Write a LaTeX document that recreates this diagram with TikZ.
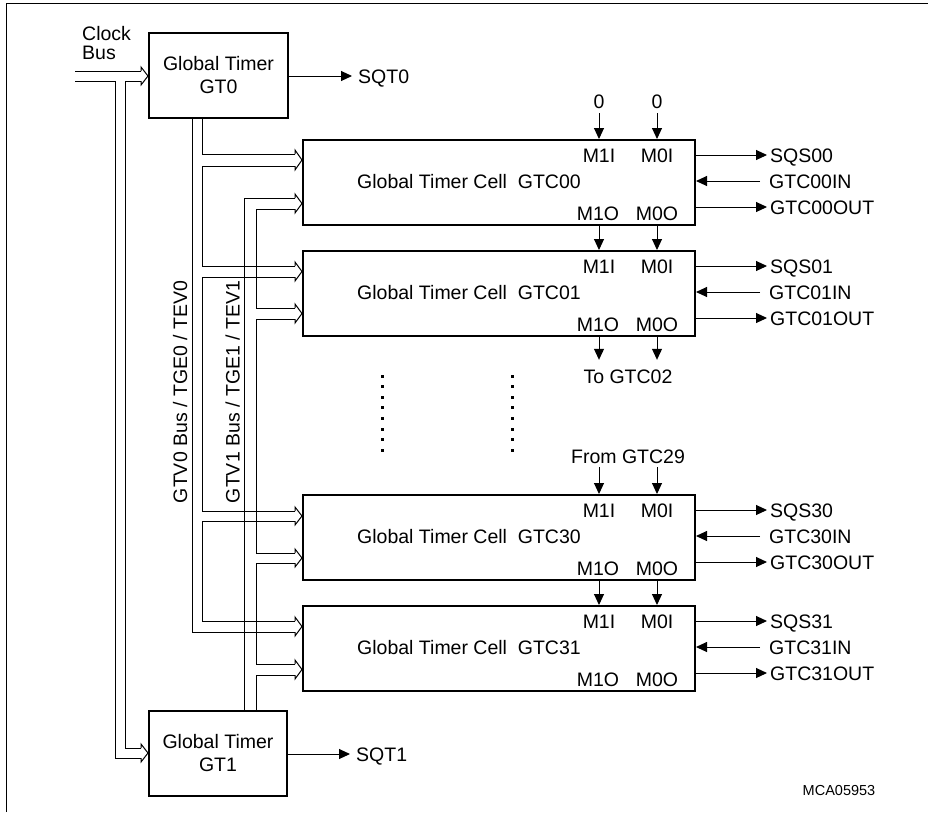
\documentclass[tikz,border=0pt]{standalone}
\usepackage{fontspec}
\setmainfont{Liberation Sans}
\usetikzlibrary{arrows.meta,calc}
\newcommand\labfont{\fontsize{19.5}{23}\selectfont}
\newcommand\chev[3]{\draw[bus] (#1-7,#2) -- (#1-7,#2-4) -- (#1,{(#2+#3)/2}) -- (#1-7,#3+4) -- (#1-7,#3);}
\begin{document}
\begin{tikzpicture}[x=1pt,y=-1pt,
  box/.style={draw, line width=2pt, inner sep=0pt, align=center, font=\labfont},
  lbl/.style={inner sep=0pt, text height=14pt, text depth=0pt, font=\labfont},
  sig/.style={line width=1pt, -{Triangle[length=11pt,width=10pt]}},
  bus/.style={line width=1pt, line join=miter},
]
\useasboundingbox (0,0) rectangle (928,812);
% frame
\draw[line width=1pt] (6,812) -- (6,3) -- (928,3);

% clock bus
\draw[bus] (75,71) -- (141,71);
\draw[bus] (75,81) -- (115,81) -- (115,758) -- (141,758);
\draw[bus] (141,81) -- (125,81) -- (125,748) -- (141,748);
\chev{148}{71}{81}
\chev{148}{748}{758}

% GTV0 bus
\draw[bus] (192,119) -- (192,632) -- (295,632);
\draw[bus] (202,119) -- (202,154) -- (295,154);
\draw[bus] (295,166) -- (202,166) -- (202,266) -- (295,266);
\draw[bus] (295,277) -- (202,277) -- (202,511) -- (295,511);
\draw[bus] (295,521) -- (202,521) -- (202,621) -- (295,621);
\chev{302}{154}{166}
\chev{302}{266}{277}
\chev{302}{511}{521}
\chev{302}{621}{632}

% GTV1 bus
\draw[bus] (244,710) -- (244,198) -- (295,198);
\draw[bus] (295,209) -- (256,209) -- (256,308) -- (295,308);
\draw[bus] (295,319) -- (256,319) -- (256,553) -- (295,553);
\draw[bus] (295,563) -- (256,563) -- (256,664) -- (295,664);
\draw[bus] (295,675) -- (256,675) -- (256,710);
\chev{302}{198}{209}
\chev{302}{308}{319}
\chev{302}{553}{563}
\chev{302}{664}{675}

\node[lbl, rotate=90] (gtv0) at (180,392) {GTV0 Bus / TGE0 / TEV0};
\node[lbl, rotate=90] (gtv1) at (232.5,392) {GTV1 Bus / TGE1 / TEV1};

% global timers
\node[box, minimum width=139pt, minimum height=85pt] (gt0) at (218.5,75.5) {Global Timer\\GT0};
\node[box, minimum width=138pt, minimum height=85pt] (gt1) at (218,753.5) {Global Timer\\GT1};
\node[lbl, anchor=west] (clk) at (82,33.5) {Clock};
\node[lbl, anchor=west] (clkb) at (82,52.5) {Bus};
\node[lbl, anchor=west, inner xsep=6pt] (sqt0) at (352,76) {SQT0};
\node[lbl, anchor=west, inner xsep=6pt] (sqt1) at (350,754) {SQT1};
\draw[sig] (gt0.east |- sqt0.west) -- (sqt0.west);
\draw[sig] (gt1.east |- sqt1.west) -- (sqt1.west);

% timer cells
\foreach \n/\t in {00/140,01/251,30/495,31/606}{
  \node[box, minimum width=392pt, minimum height=85pt] (c\n) at (499,\t+42.5) {};
  \node[lbl] (m1i\n) at (599,\t+15) {M1I};
  \node[lbl] (m0i\n) at (657,\t+15) {M0I};
  \node[lbl, anchor=west] (t\n) at (357,\t+41) {Global Timer Cell\ \ GTC\n};
  \node[lbl] (m1o\n) at (598,\t+73) {M1O};
  \node[lbl] (m0o\n) at (657,\t+73) {M0O};
  \node[lbl, anchor=west, inner xsep=3pt] (sqs\n) at (767,\t+15) {SQS\n};
  \node[lbl, anchor=west, inner xsep=9pt] (in\n) at (760,\t+41) {GTC\n IN};
  \node[lbl, anchor=west, inner xsep=3pt] (out\n) at (767,\t+67) {GTC\n OUT};
  \draw[sig] (c\n.east |- sqs\n.west) -- (sqs\n.west);
  \draw[sig] (in\n.west) -- (c\n.east |- in\n.west);
  \draw[sig] (c\n.east |- out\n.west) -- (out\n.west);
}

% M inputs / outputs
\node[lbl, inner ysep=4.5pt] (z1) at (599,101.5) {0};
\node[lbl, inner ysep=4.5pt] (z0) at (657,101.5) {0};
\draw[sig] (z1.south) -- (z1.south |- c00.north);
\draw[sig] (z0.south) -- (z0.south |- c00.north);
\draw[sig] (c00.south -| z1) -- (c01.north -| z1);
\draw[sig] (c00.south -| z0) -- (c01.north -| z0);
\node[lbl, inner ysep=9pt] (to02) at (628,376) {To GTC02};
\draw[sig] (c01.south -| z1) -- (z1 |- to02.north);
\draw[sig] (c01.south -| z0) -- (z0 |- to02.north);
\node[lbl, inner ysep=4pt] (fr29) at (628,456) {From GTC29};
\draw[sig] (fr29.south -| z1) -- (c30.north -| z1);
\draw[sig] (fr29.south -| z0) -- (c30.north -| z0);
\draw[sig] (c30.south -| z1) -- (c31.north -| z1);
\draw[sig] (c30.south -| z0) -- (c31.north -| z0);

% continuation dots
\foreach \i in {0,...,7}{
  \fill (380.5,374.5+\i*10.6) rectangle ++(3,3);
  \fill (510.5,374.5+\i*10.6) rectangle ++(3,3);
}

\node[inner sep=0pt, font=\fontsize{14.5}{17}\selectfont] (mca) at (839,790) {MCA05953};
\end{tikzpicture}
\end{document}
